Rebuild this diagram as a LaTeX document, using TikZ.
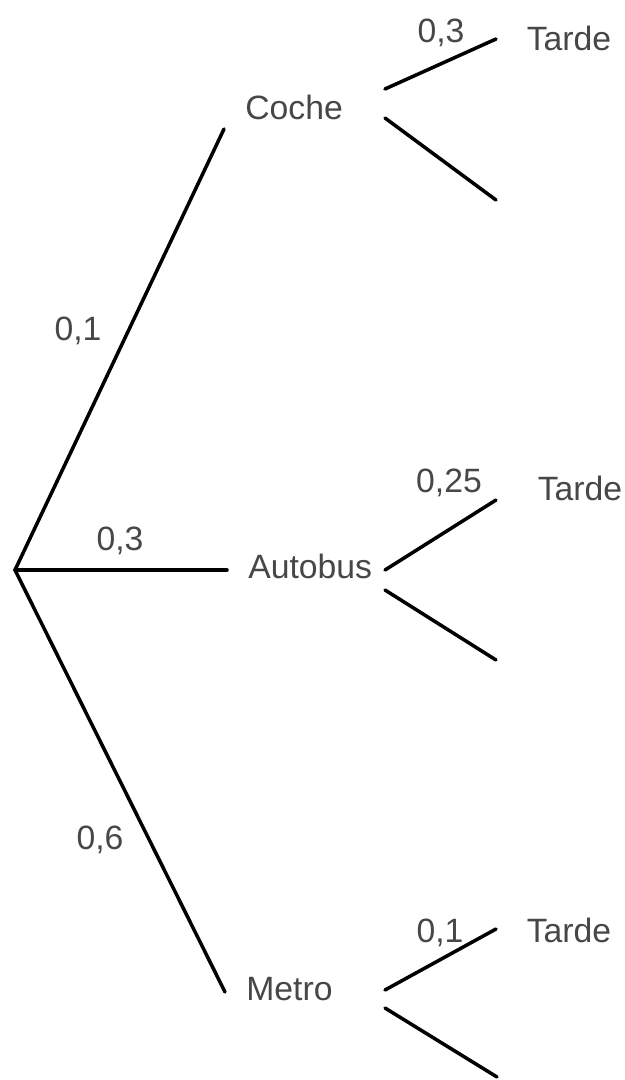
\documentclass[tikz,border=0pt]{standalone}
\usepackage{fontspec}
\setmainfont{Liberation Sans}

\begin{document}
\begin{tikzpicture}[x=0.02cm, y=-0.02cm,
    font=\fontsize{19.2}{23}\selectfont,
    branch/.style={line width=2pt, line cap=round},
    cat/.style={text=black!72, text height=0.32cm, text depth=0pt, inner xsep=0.42cm, inner ysep=0.18cm},
    leaf/.style={text=black!72, anchor=base, inner sep=0pt},
    prob/.style={text=black!72, anchor=base, inner sep=0pt}]

  \useasboundingbox (0,0) rectangle (625,1080);

  % --- First level: root -> transport ---
  \coordinate (root) at (15,570);
  \node[cat, anchor=south west] (coche) at (224,129) {Coche};
  \node[cat, anchor=west] (autobus) at (227,570) {Autobus};
  \node[cat, anchor=west] (metro) at (225,992) {Metro};

  \draw[branch] (root) -- (coche.south west);
  \draw[branch] (root) -- (autobus.west);
  \draw[branch] (root) -- (metro.west);

  \node[prob] (pcoche) at (78,340) {0,1};
  \node[prob] (pautobus) at (120,550) {0,3};
  \node[prob] (pmetro) at (100,849) {0,6};

  % --- Second level: late or not ---
  \coordinate (cocheup) at (385,89);
  \coordinate (cocheupend) at (496,39);
  \coordinate (cochedn) at (385,118);
  \coordinate (cochednend) at (496,200);
  \coordinate (autobusup) at (385,570);
  \coordinate (autobusupend) at (496,500);
  \coordinate (autobusdn) at (385,590);
  \coordinate (autobusdnend) at (496,660);
  \coordinate (metroup) at (385,990);
  \coordinate (metroupend) at (496,929);
  \coordinate (metrodn) at (385,1008);
  \coordinate (metrodnend) at (497,1077);

  \draw[branch] (cocheup) -- (cocheupend);
  \draw[branch] (cochedn) -- (cochednend);
  \draw[branch] (autobusup) -- (autobusupend);
  \draw[branch] (autobusdn) -- (autobusdnend);
  \draw[branch] (metroup) -- (metroupend);
  \draw[branch] (metrodn) -- (metrodnend);

  \node[prob] (ptcoche) at (441,42) {0,3};
  \node[prob] (ptautobus) at (449,492) {0,25};
  \node[prob] (ptmetro) at (440,942) {0,1};

  \node[leaf] (tcoche) at (569,50) {Tarde};
  \node[leaf] (tautobus) at (580,500) {Tarde};
  \node[leaf] (tmetro) at (569,942) {Tarde};
\end{tikzpicture}
\end{document}
